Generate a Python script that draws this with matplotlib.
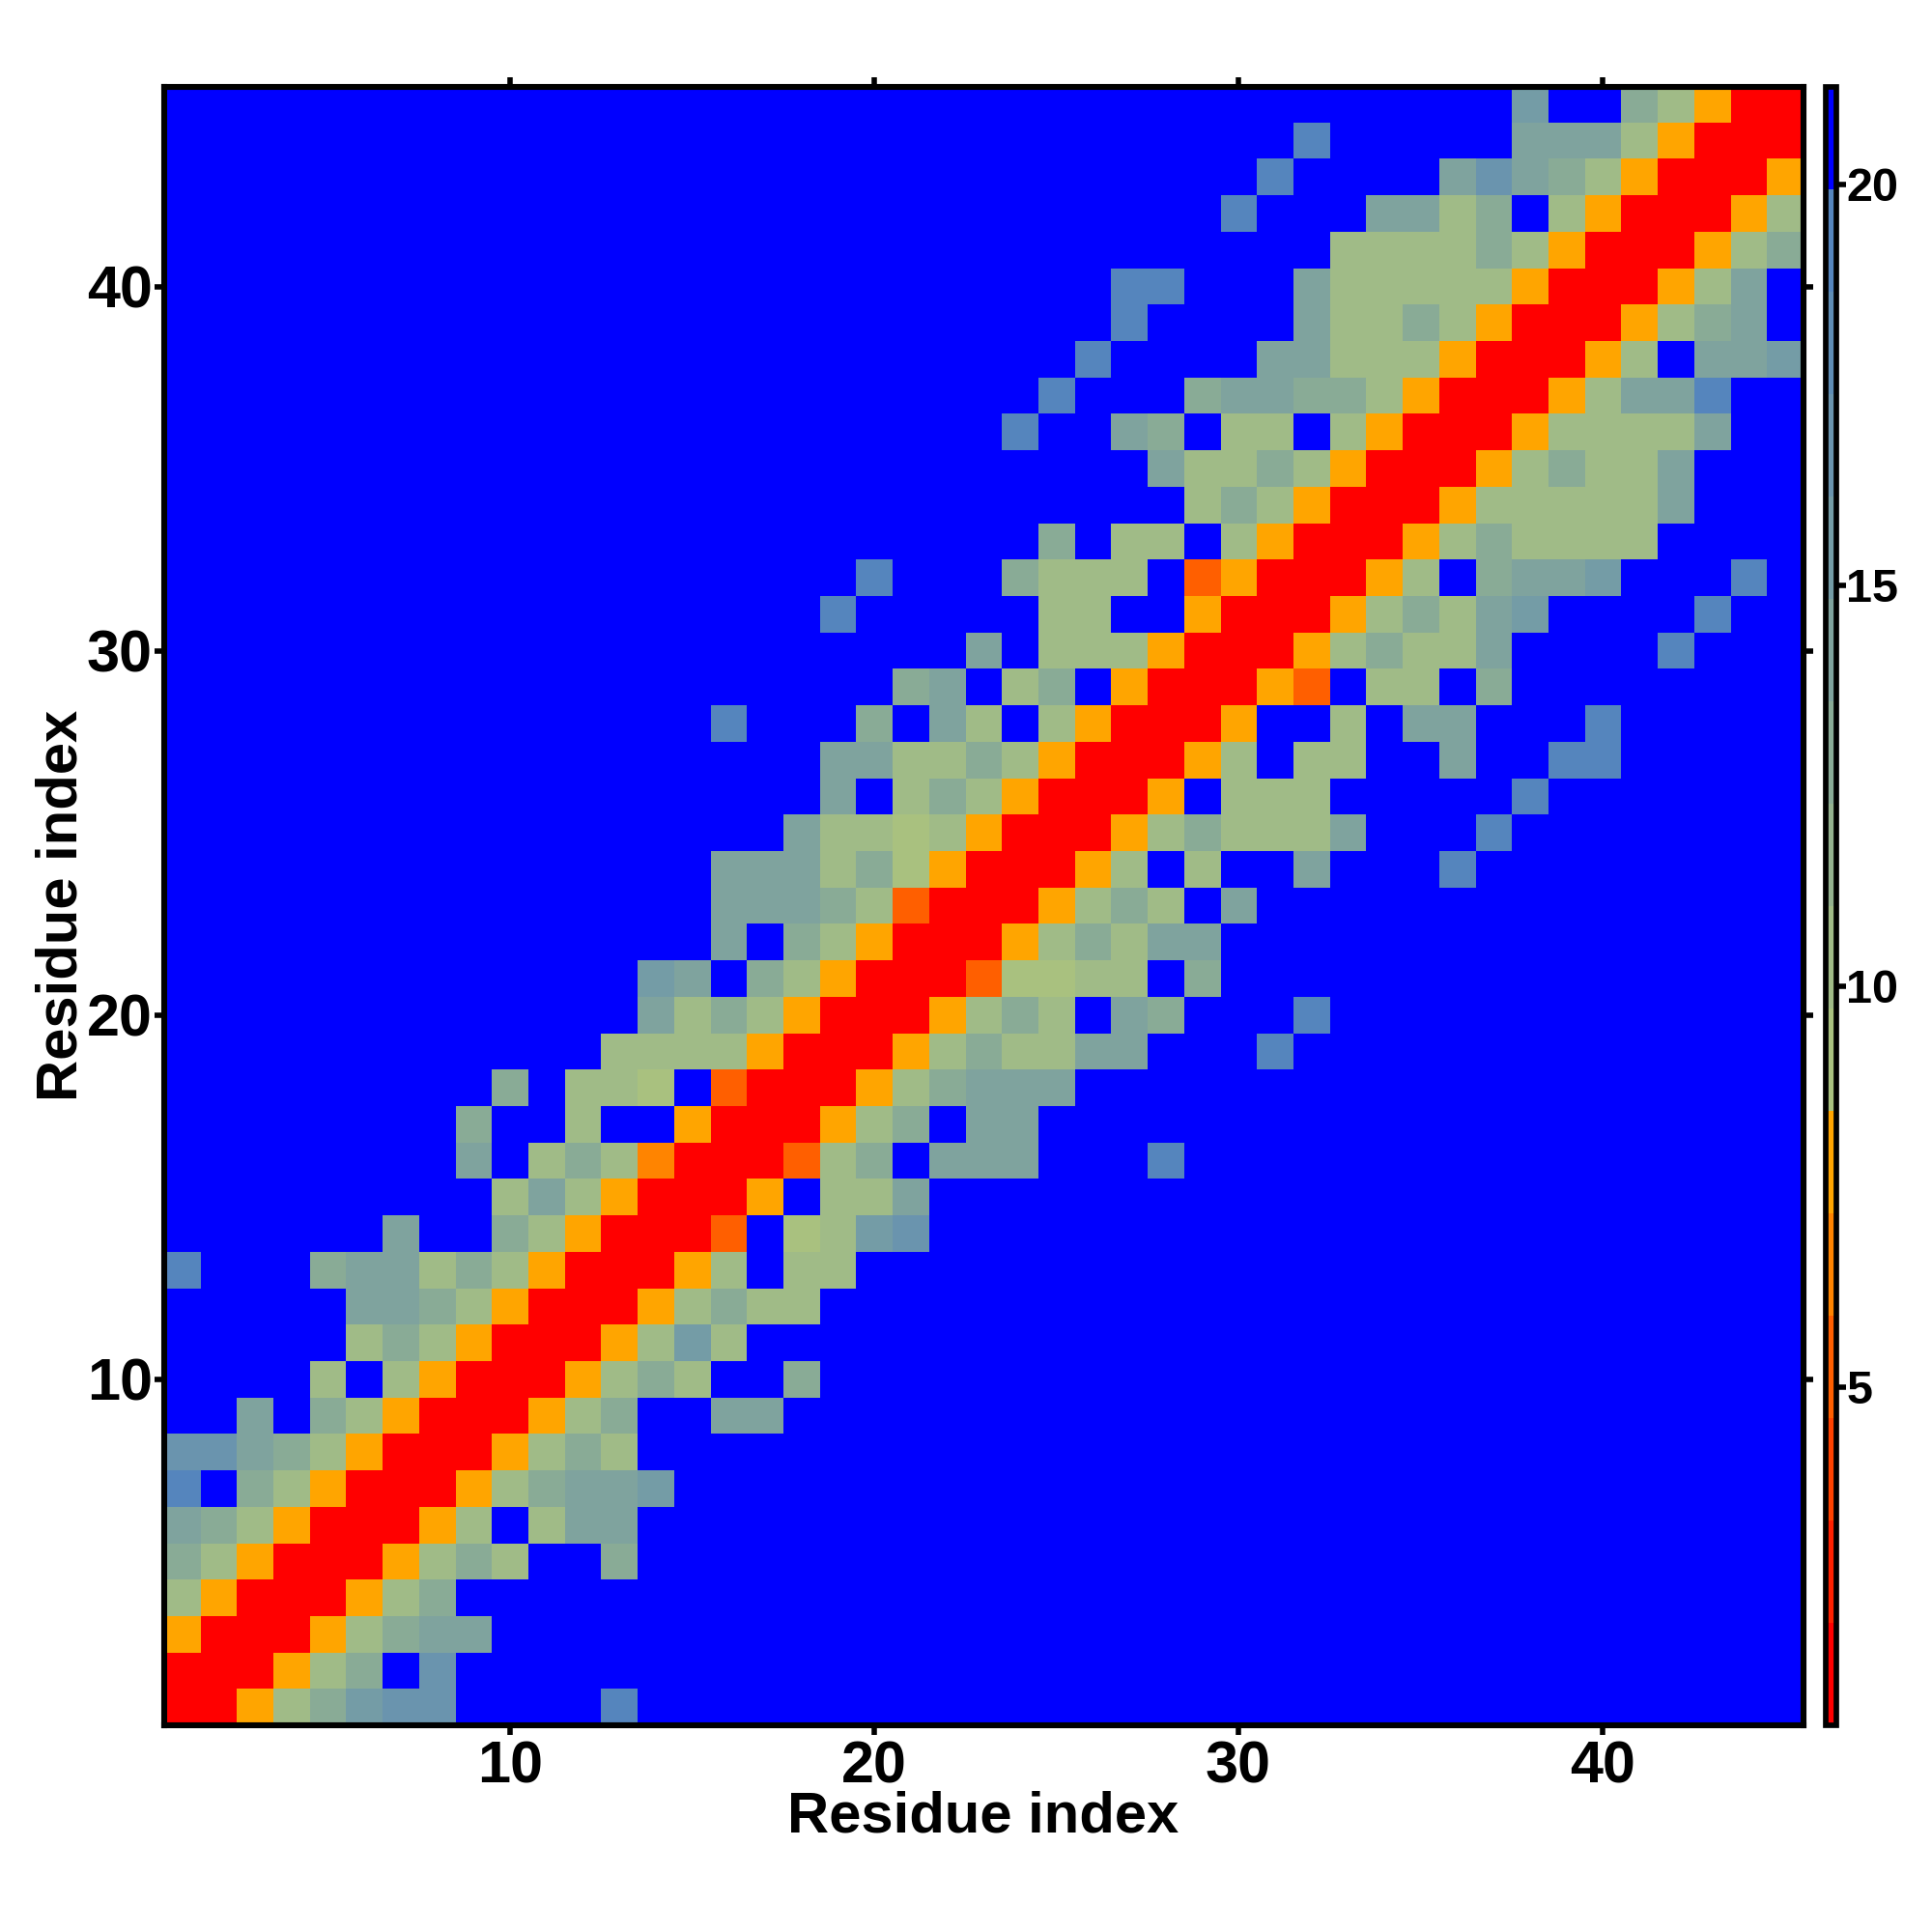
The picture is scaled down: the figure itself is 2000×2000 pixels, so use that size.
import numpy as np
import matplotlib
matplotlib.use("Agg")
import matplotlib.pyplot as plt
from matplotlib.colors import ListedColormap, BoundaryNorm

plt.rcParams["font.family"] = ["Liberation Sans", "DejaVu Sans"]
plt.rcParams["font.weight"] = "bold"

# distance value for each letter used in the map rows
code_values = {
    "R": 1.5, "D": 5.2, "E": 6.5, "O": 7.8, "H": 9.0, "G": 10.3, "g": 12.9,
    "T": 14.1, "t": 15.4, "s": 16.7, "S": 19.3, ".": 21.0,
}

# residue map, first row is residue 1 at the bottom, 45 cells per row
rows = [
    "RROGg tss.. ..S.. ..... ..... ..... ..... ..... .....",
    "RRROG g.s.. ..... ..... ..... ..... ..... ..... .....",
    "ORRRO GgTT. ..... ..... ..... ..... ..... ..... .....",
    "GORRR OGg.. ..... ..... ..... ..... ..... ..... .....",
    "gGORR ROGgG ..g.. ..... ..... ..... ..... ..... .....",
    "TgGOR RROG. GTT.. ..... ..... ..... ..... ..... .....",
    "S.gGO RRROG gTTt. ..... ..... ..... ..... ..... .....",
    "ssTgG ORRRO GgG.. ..... ..... ..... ..... ..... .....",
    "..T.g GORRR OGg.. TT... ..... ..... ..... ..... .....",
    "....G .GORR ROGgG ..g.. ..... ..... ..... ..... .....",
    "..... GgGOR RROGt G.... ..... ..... ..... ..... .....",
    "..... TTgGO RRROG gGG.. ..... ..... ..... ..... .....",
    "S...g TTGgG ORRRO G.GG. ..... ..... ..... ..... .....",
    "..... .T..g GORRR D.HGt s.... ..... ..... ..... .....",
    "..... ....G TGORR RO.GG T.... ..... ..... ..... .....",
    "..... ...T. GgGER RRDGg .TTT. ..S.. ..... ..... .....",
    "..... ...g. .G..O RRROG g.TT. ..... ..... ..... .....",
    "..... ....g .GGH. DRRRO GgTTT ..... ..... ..... .....",
    "..... ..... ..GGG GORRR OGgGG TT... S.... ..... .....",
    "..... ..... ...TG gGORR ROGgG .Tg.. .S... ..... .....",
    "..... ..... ...tT .gGOR RRDHH GG.g. ..... ..... .....",
    "..... ..... ..... T.gGO RRROG gGTT. ..... ..... .....",
    "..... ..... ..... TTTgG DRRRO GgG.T ..... ..... .....",
    "..... ..... ..... TTTGg HORRR OG.G. .T... S.... .....",
    "..... ..... ..... ..TGG HGORR ROGgG GGT.. .S... .....",
    "..... ..... ..... ...T. GgGOR RRO.G GG... ..S.. .....",
    "..... ..... ..... ...TT GGgGO RRROG .GG.. T..SS .....",
    "..... ..... ..... S...g .TG.G ORRRO ..G.T T...S .....",
    "..... ..... ..... ..... gT.Gg .ORRR OD.GG .g... .....",
    "..... ..... ..... ..... ..T.G GGORR ROGgG GT... .S...",
    "..... ..... ..... ...S. ....G G..OR RROGg GTt.. ..S..",
    "..... ..... ..... ....S ...gG GG.DO RRROG .gTTt ...S.",
    "..... ..... ..... ..... ....g .GG.G ORRRO GgGGG G....",
    "..... ..... ..... ..... ..... ...Gg GORRR OGGGG GT...",
    "..... ..... ..... ..... ..... ..TGG gGORR ROGgG GT...",
    "..... ..... ..... ..... ...S. .Tg.G G.GOR RROGG GGT..",
    "..... ..... ..... ..... ....S ...gT TggGO RRROG TTS..",
    "..... ..... ..... ..... ..... S.... TTGGG ORRRO G.TTt",
    "..... ..... ..... ..... ..... .S... .TGGg GORRR OGgT.",
    "..... ..... ..... ..... ..... .SS.. .TGGG GGORR ROGT.",
    "..... ..... ..... ..... ..... ..... ..GGG GgGOR RROGg",
    "..... ..... ..... ..... ..... ....S ...TT Gg.GO RRROG",
    "..... ..... ..... ..... ..... ..... S.... TsTgG ORRRO",
    "..... ..... ..... ..... ..... ..... .S... ..TTT GORRR",
    "..... ..... ..... ..... ..... ..... ..... ..t.. gGORR",
]

main_ticks = [10, 20, 30, 40]
bar_ticks = [5, 10, 15, 20]
level_colors = [
    "#ff0000", "#ff2100", "#ff4200", "#ff5f00", "#ff8400", "#ffa500",
    "#a9c17f", "#a0bb87", "#94b28f", "#89ab96", "#7fa39e", "#749ca6",
    "#6a94ae", "#5f8db5", "#5585bd", "#0000ff",
]
levels = np.linspace(0.78, 21.22, 17)

matrix = np.array([[code_values[c] for c in r.replace(" ", "")] for r in rows])

cmap = ListedColormap(level_colors)
norm = BoundaryNorm(levels, cmap.N)

fig = plt.figure(figsize=(20, 20), dpi=100)
W = H = 2000.0

# main map
ax = fig.add_axes([169.5 / W, 1 - 1786 / H, 1697 / W, 1696.5 / H])
im = ax.imshow(matrix, origin="lower", cmap=cmap, norm=norm, aspect="auto",
               interpolation="nearest", extent=(0.5, 45.5, 0.5, 45.5))
ax.set_xticks(main_ticks)
ax.set_yticks(main_ticks)
ax.tick_params(axis="both", top=True, right=True, length=7.5, width=4,
               labelsize=44)
ax.tick_params(axis="x", pad=4)
ax.tick_params(axis="y", pad=1)
for spine in ax.spines.values():
    spine.set_linewidth(4.4)

fig.text(1018 / W, 1 - 1881 / H, "Residue index", fontsize=43, fontweight="bold",
         ha="center", va="center")
fig.text(64 / W, 1 - 937 / H, "Residue index", fontsize=43, fontweight="bold",
         rotation=90, ha="center", va="center")

# colour bar
cax = fig.add_axes([1889.5 / W, 1 - 1786 / H, 11.5 / W, 1696.5 / H])
cbar = fig.colorbar(im, cax=cax, spacing="proportional", ticks=bar_ticks,
                    drawedges=False)
cbar.ax.minorticks_off()
cbar.ax.tick_params(length=7.5, width=4, labelsize=35, pad=0)
cbar.outline.set_linewidth(4.1)

plt.savefig("out.png", dpi=100)
